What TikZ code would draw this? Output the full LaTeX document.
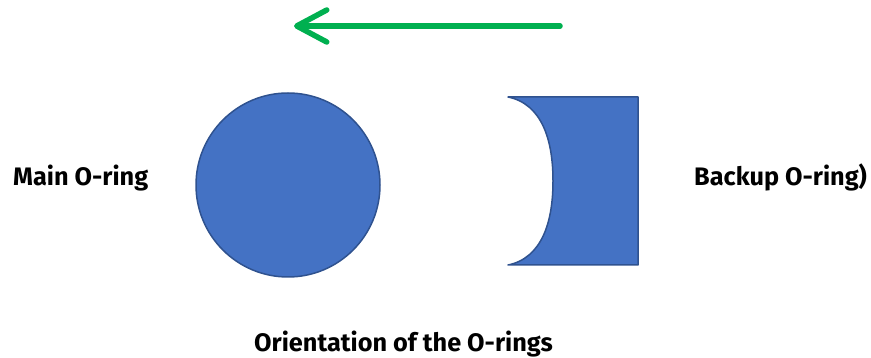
\documentclass[tikz,border=0pt]{standalone}
\usepackage{fontspec}
\setmainfont{Fira Sans}
\usetikzlibrary{arrows.meta}
\definecolor{ringblue}{HTML}{4472C4}
\definecolor{ringedge}{HTML}{2F528F}
\definecolor{arrowgreen}{HTML}{00B050}

\begin{document}
\begin{tikzpicture}[
    x=1pt, y=-1pt,
    ring/.style={circle, fill=ringblue, draw=ringedge, line width=1.5pt, minimum size=184pt, inner sep=0pt},
    caption/.style={font=\fontsize{25.3}{30}\selectfont\bfseries, anchor=base west, inner sep=0pt}
]
  \useasboundingbox (0,0) rectangle (871,358);

  % --- DIRECTION ARROW ---
  \coordinate (tail) at (560,26);
  \coordinate (head) at (294,26);
  \draw[arrowgreen, line width=5.5pt, line cap=round,
        -{Straight Barb[round, length=30pt, width=32pt]}] (tail) -- (head);

  % --- MAIN O-RING ---
  \node[ring] (mainring) at (288,185) {};

  % --- BACKUP O-RING ---
  \draw[fill=ringblue, draw=ringedge, line width=1.5pt, line join=round]
    (508,97) -- (638,97) -- (638,265) -- (508,265)
    .. controls (542,258) and (553,222) .. (553,181)
    .. controls (553,140) and (542,104) .. (508,97) -- cycle;

  % --- LABELS ---
  \node[caption] (main) at (13,186) {Main O-ring};
  \node[caption] (backup) at (694,186) {Backup O-ring)};
  \node[caption] (title) at (254,352) {Orientation of the O-rings};

\end{tikzpicture}
\end{document}
